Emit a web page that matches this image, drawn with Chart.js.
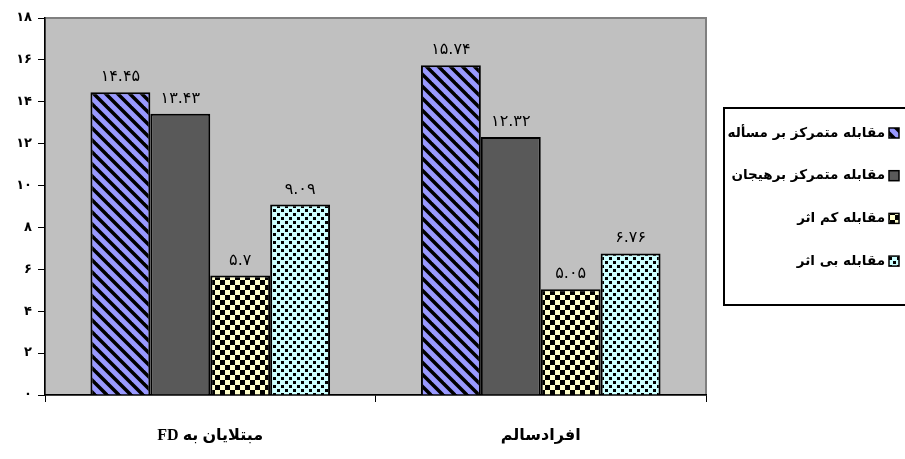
<!DOCTYPE html>
<html>
<head>
<meta charset="utf-8">
<script src="https://cdn.jsdelivr.net/npm/chart.js@4/dist/chart.umd.min.js"></script>
<style>
  html, body { margin: 0; padding: 0; background: #ffffff; }
  canvas { display: block; }
</style>
</head>
<body>
<canvas id="chart" dir="rtl" width="905" height="459"></canvas>
<script>
// Coping strategy scores for two groups
const categories = ['مبتلایان به FD', 'افرادسالم'];
const seriesNames = [
  'مقابله متمرکز بر مسأله',
  'مقابله متمرکز برهیجان',
  'مقابله کم اثر',
  'مقابله بی اثر'
];
const problemFocused = [14.45, 15.74];
const emotionFocused = [13.43, 12.32];
const lowEffect = [5.7, 5.05];
const noEffect = [9.09, 6.76];
const yMin = 0, yMax = 18, yStep = 2;

const PERSIAN = '۰۱۲۳۴۵۶۷۸۹';
const toPersian = v => String(v).replace(/[0-9]/g, d => PERSIAN[+d]);

// Pattern fills
function makePattern(size, paint) {
  const c = document.createElement('canvas');
  c.width = size; c.height = size;
  const g = c.getContext('2d');
  paint(g, size);
  return g.createPattern(c, 'repeat');
}
const hatchBlue = makePattern(12, (g, s) => {
  g.fillStyle = '#9999FF'; g.fillRect(0, 0, s, s);
  g.strokeStyle = '#000'; g.lineWidth = 3.5;
  for (const k of [-s, 0, s]) {
    g.beginPath(); g.moveTo(k - 2, -2); g.lineTo(k + s + 2, s + 2); g.stroke();
  }
});
const solidGray = '#595959';
const checkYellow = makePattern(10, (g, s) => {
  g.fillStyle = '#FFFFCC'; g.fillRect(0, 0, s, s);
  g.fillStyle = '#000';
  g.fillRect(0, 0, 5, 5); g.fillRect(5, 5, 5, 5);
});
const dotsCyan = makePattern(8, (g, s) => {
  g.fillStyle = '#CCFFFF'; g.fillRect(0, 0, s, s);
  g.fillStyle = '#000';
  g.fillRect(1, 1, 3, 3); g.fillRect(5, 5, 3, 3);
});

const fills = [hatchBlue, solidGray, checkYellow, dotsCyan];
const values = [problemFocused, emotionFocused, lowEffect, noEffect];

const PLOT_BG = '#C0C0C0';

// Gray plot area with frame
const plotBackground = {
  id: 'plotBackground',
  beforeDraw(chart) {
    const { ctx, chartArea: a } = chart;
    ctx.save();
    ctx.fillStyle = PLOT_BG;
    ctx.fillRect(a.left, a.top, a.right - a.left, a.bottom - a.top);
    ctx.strokeStyle = '#808080';
    ctx.lineWidth = 2;
    ctx.strokeRect(a.left, a.top, a.right - a.left, a.bottom - a.top);
    ctx.restore();
  }
};

// Value labels above each bar
const valueLabels = {
  id: 'valueLabels',
  afterDatasetsDraw(chart) {
    const ctx = chart.ctx;
    ctx.save();
    ctx.font = '16px "DejaVu Sans"';
    ctx.textAlign = 'center';
    ctx.textBaseline = 'alphabetic';
    ctx.direction = 'rtl';
    chart.data.datasets.forEach((ds, i) => {
      chart.getDatasetMeta(i).data.forEach((bar, j) => {
        const txt = toPersian(ds.data[j]);
        const w = ctx.measureText(txt).width;
        const y = bar.y - 11;
        ctx.fillStyle = PLOT_BG;
        ctx.fillRect(bar.x - w / 2 - 2, y - 15, w + 4, 18);
        ctx.fillStyle = '#000';
        ctx.fillText(txt, bar.x, y);
      });
    });
    ctx.restore();
  }
};

// Boxed legend on the right, swatch after the text (right-to-left)
const boxLegend = {
  id: 'boxLegend',
  afterDraw(chart) {
    const { ctx, chartArea: a } = chart;
    const left = a.right + 18, top = 108, bottom = 305;
    ctx.save();
    ctx.strokeStyle = '#000';
    ctx.lineWidth = 2;
    ctx.strokeRect(left, top, chart.width - left + 10, bottom - top);
    ctx.font = 'bold 13.5px "DejaVu Sans"';
    ctx.textAlign = 'right';
    ctx.textBaseline = 'middle';
    ctx.direction = 'rtl';
    const sx = 889, sw = 10;
    chart.data.datasets.forEach((ds, i) => {
      const cy = 133 + i * 42.7;
      ctx.fillStyle = ds.backgroundColor;
      ctx.fillRect(sx, cy - sw / 2, sw, sw);
      ctx.lineWidth = 1.5;
      ctx.strokeRect(sx, cy - sw / 2, sw, sw);
      ctx.fillStyle = '#000';
      ctx.fillText(ds.label, sx - 4, cy);
    });
    ctx.restore();
  }
};

new Chart(document.getElementById('chart'), {
  type: 'bar',
  data: {
    labels: categories,
    datasets: seriesNames.map((name, i) => ({
      label: name,
      data: values[i],
      backgroundColor: fills[i],
      borderColor: '#000',
      borderWidth: 2,
      categoryPercentage: 0.725,
      barPercentage: 1.0
    }))
  },
  options: {
    responsive: false,
    animation: false,
    layout: { padding: { top: 18, right: 199, left: 0, bottom: 0 } },
    plugins: {
      legend: { display: false },
      tooltip: { enabled: false }
    },
    scales: {
      x: {
        afterFit(scale) { scale.height = 64; },
        grid: {
          offset: true,
          drawOnChartArea: false,
          drawTicks: true,
          tickLength: 7,
          color: '#000'
        },
        border: { display: true, color: '#000', width: 1.5 },
        ticks: {
          color: '#000',
          padding: 24,
          font: { family: '"Liberation Serif", "DejaVu Sans"', size: 16, weight: 'bold' }
        }
      },
      y: {
        min: yMin,
        max: yMax,
        afterFit(scale) { scale.width = 45; },
        grid: {
          drawOnChartArea: false,
          drawTicks: true,
          tickLength: 7,
          color: '#000'
        },
        border: { display: true, color: '#000', width: 1.5 },
        ticks: {
          stepSize: yStep,
          color: '#000',
          padding: 6,
          font: { family: '"DejaVu Sans"', size: 13, weight: 'bold' },
          callback: v => toPersian(v)
        }
      }
    }
  },
  plugins: [plotBackground, valueLabels, boxLegend]
});
</script>
</body>
</html>
